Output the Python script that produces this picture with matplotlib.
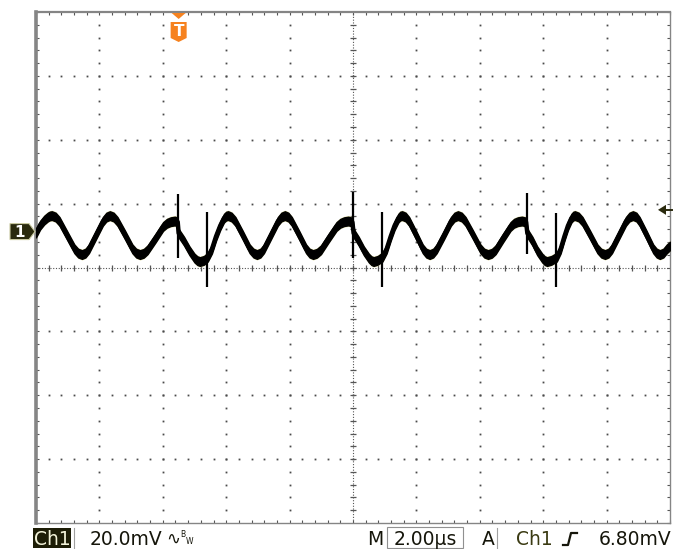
import matplotlib
matplotlib.use('Agg')
import matplotlib.pyplot as plt
import numpy as np
from matplotlib.patches import Polygon, Rectangle

# scope settings
volts_per_div = 20.0      # mV
time_per_div = 2.0        # us
ground_offset_div = 0.5625
trigger_level = 6.80      # mV
trigger_time = 4.50       # us

# trace centre line (us, mV)
trace_read = [
    (0.00, -0.5), (0.13, 2.0), (0.26, 3.6), (0.38, 4.6), (0.44, 4.9), (0.50, 5.0),
    (0.62, 4.54), (0.74, 3.2), (0.975, -1.1), (1.21, -5.4), (1.33, -6.74), (1.45, -7.2),
    (1.56, -6.74), (1.67, -5.4), (1.89, -1.1), (2.11, 3.2), (2.22, 4.54), (2.33, 5.0),
    (2.45, 4.54), (2.57, 3.2), (2.81, -1.1), (3.04, -5.4), (3.16, -6.74), (3.28, -7.2),
    (3.40, -6.8), (3.52, -5.7), (3.77, -2.05), (4.01, 1.6), (4.13, 2.6), (4.25, 3.1),
    (4.38, 3.3), (4.47, 3.0),
    (4.50, -0.5), (4.67, -3.0), (4.84, -6.0), (5.00, -8.3), (5.09, -9.1), (5.17, -9.4),
    (5.30, -9.0), (5.38, -8.3),
    (5.42, -8.0), (5.55, -5.5), (5.68, -1.5), (5.81, 1.8), (5.93, 4.2), (6.00, 4.85), (6.06, 5.0),
    (6.17, 4.54), (6.29, 3.2), (6.52, -1.1), (6.74, -5.4), (6.86, -6.74), (6.97, -7.2),
    (7.08, -6.74), (7.19, -5.4), (7.41, -1.1), (7.63, 3.2), (7.74, 4.54), (7.85, 5.0),
    (7.96, 4.54), (8.07, 3.2), (8.30, -1.1), (8.52, -5.4), (8.63, -6.74), (8.74, -7.2),
    (8.86, -6.8), (8.99, -5.7), (9.23, -2.05), (9.48, 1.6), (9.60, 2.6), (9.72, 3.1),
    (9.85, 3.3), (9.98, 3.0),
    (10.02, -0.5), (10.18, -3.0), (10.34, -6.0), (10.50, -8.3), (10.58, -9.1), (10.65, -9.4),
    (10.78, -9.0), (10.88, -8.3),
    (10.93, -8.0), (11.06, -5.5), (11.19, -1.5), (11.31, 1.8), (11.43, 4.2), (11.49, 4.85), (11.55, 5.0),
    (11.66, 4.54), (11.77, 3.2), (11.99, -1.1), (12.20, -5.4), (12.31, -6.74), (12.42, -7.2),
    (12.53, -6.74), (12.64, -5.4), (12.87, -1.1), (13.09, 3.2), (13.20, 4.54), (13.31, 5.0),
    (13.43, 4.54), (13.55, 3.2), (13.79, -1.1), (14.02, -5.4), (14.14, -6.74), (14.26, -7.2),
    (14.38, -6.8), (14.50, -5.7), (14.73, -2.05), (14.97, 1.6), (15.08, 2.6), (15.20, 3.1),
    (15.33, 3.3), (15.46, 3.0),
    (15.50, -0.5), (15.66, -3.0), (15.81, -6.0), (15.97, -8.3), (16.05, -9.1), (16.12, -9.4),
    (16.26, -9.0), (16.38, -8.3),
    (16.43, -8.0), (16.55, -5.5), (16.67, -1.5), (16.78, 1.8), (16.89, 4.2), (16.95, 4.85), (17.00, 5.0),
    (17.12, 4.54), (17.24, 3.2), (17.48, -1.1), (17.71, -5.4), (17.83, -6.74), (17.95, -7.2),
    (18.06, -6.74), (18.17, -5.4), (18.39, -1.1), (18.61, 3.2), (18.72, 4.54), (18.83, 5.0),
    (18.94, 4.54), (19.04, 3.2), (19.26, -1.1), (19.47, -5.4), (19.58, -6.74), (19.68, -7.2),
    (19.79, -6.74), (19.90, -5.4), (20.00, -4.5),
]
trace_t = [p[0] for p in trace_read]
trace_v = [p[1] for p in trace_read]

# switching spikes
spike_t = [4.48, 5.39, 10.00, 10.90, 15.48, 16.40]
spike_lo = [-8.4, -17.5, -8.4, -17.5, -7.0, -17.5]
spike_hi = [11.9, 6.2, 12.5, 6.2, 12.2, 5.9]

W, H = 673, 549
left, right, top, bottom = 36, 670, 12, 523
centre = -ground_offset_div * volts_per_div
y_lo, y_hi = centre - 4 * volts_per_div, centre + 4 * volts_per_div
t_end = 10 * time_per_div

fig = plt.figure(figsize=(W / 100, H / 100), dpi=100)
ax = fig.add_axes([left / W, (H - bottom) / H, (right - left) / W, (bottom - top) / H])
ax.set_xlim(0, t_end)
ax.set_ylim(y_lo, y_hi)

# graticule
grid_col = '#4a4a4a'
x_fine = np.arange(1, 50) * time_per_div / 5
y_fine = y_lo + np.arange(1, 40) * volts_per_div / 5
for k in range(1, 10):
    x = k * time_per_div
    if k == 5:
        continue
    ax.plot(np.full_like(y_fine, x), y_fine, ls='none', marker='s', ms=1.3, mew=0, color=grid_col)
for k in range(1, 8):
    y = y_lo + k * volts_per_div
    if k == 4:
        continue
    ax.plot(x_fine, np.full_like(x_fine, y), ls='none', marker='s', ms=1.3, mew=0, color=grid_col)

ax.axvline(t_end / 2, ls=(0, (1, 1.5)), lw=0.8, color='#555555')
ax.axhline(centre, ls=(0, (1, 1.5)), lw=0.8, color='#555555')
ax.plot(x_fine, np.full_like(x_fine, centre), ls='none', marker='|', ms=5, mew=0.9, color='#555555')
ax.plot(np.full_like(y_fine, t_end / 2), y_fine, ls='none', marker='_', ms=5, mew=0.9, color='#555555')

for name, s in ax.spines.items():
    s.set_color('#858585')
ax.spines['left'].set_linewidth(2.6)
ax.spines['top'].set_linewidth(1.6)
ax.spines['right'].set_linewidth(1.0)
ax.spines['bottom'].set_linewidth(1.0)
ax.set_xticks(np.arange(0, 51) * time_per_div / 5)
ax.set_yticks(y_lo + np.arange(0, 41) * volts_per_div / 5)
ax.tick_params(direction='in', length=2.5, width=0.8, color='#555555',
               top=True, right=True, labelbottom=False, labelleft=False)

# trace
tv = np.array(trace_v)
ax.fill_between(trace_t, tv - 1.7, tv + 1.7, color='#e4e1a8', lw=0, zorder=3)
ax.fill_between(trace_t, tv - 1.35, tv + 1.35, facecolor='black', edgecolor='black', lw=1.0, zorder=4)
ax.plot(trace_t, trace_v, color='black', lw=3.2, solid_joinstyle='round', zorder=4)
ax.vlines(spike_t, spike_lo, spike_hi, color='black', lw=1.6, zorder=5)

# overlay in pixel coordinates
ov = fig.add_axes([0, 0, 1, 1], zorder=5)
ov.set_xlim(0, W)
ov.set_ylim(H, 0)
ov.axis('off')
ov.patch.set_alpha(0)


def px(t):
    return left + t / t_end * (right - left)


def py(v):
    return top + (y_hi - v) / (y_hi - y_lo) * (bottom - top)


dark = '#2a2a0e'
orange = '#f6821f'

tx = px(trigger_time)
ov.add_patch(Polygon([(tx - 7, 13), (tx + 7, 13), (tx, 19)], closed=True, fc=orange, ec='none'))
ov.add_patch(Polygon([(tx - 8, 22), (tx + 8, 22), (tx + 8, 38), (tx, 42), (tx - 8, 38)],
                     closed=True, fc=orange, ec='none'))
ov.text(tx, 31.5, 'T', color='white', fontsize=11, fontweight='bold', ha='center', va='center')

gy = py(0)
ov.add_patch(Polygon([(10, gy - 8), (29, gy - 8), (35, gy), (29, gy + 8), (10, gy + 8)],
                     closed=True, fc=dark, ec='#c8c8a0', lw=0.8))
ov.text(19.5, gy + 0.5, '1', color='white', fontsize=11, fontweight='bold', ha='center', va='center')

ly = py(trigger_level)
ov.add_patch(Polygon([(658, ly), (666, ly - 5), (666, ly + 5)], closed=True, fc=dark, ec='none'))
ov.plot([664, 672], [ly, ly], color=dark, lw=1.4)

# status bar
txt = '#15150a'
fs = 13.5
base = 545
ov.add_patch(Rectangle((33, 528), 38, 20, fc='#1d1d06', ec='none'))
ov.text(52, base, 'Ch1', color='#f2f2d8', fontsize=fs, ha='center', va='baseline')
ov.plot([74, 74], [528, 548], color='#a0a0a0', lw=0.8)
ov.text(90, base, '20.0mV', color=txt, fontsize=fs, ha='left', va='baseline')
ov.text(166, base - 1, '∿', color=txt, fontsize=12, ha='left', va='baseline')
ov.text(180, 537, 'B', color=txt, fontsize=5.5, ha='left', va='baseline')
ov.text(186, 544, 'W', color=txt, fontsize=5.5, ha='left', va='baseline')

ov.text(375, base, 'M', color=txt, fontsize=fs, ha='center', va='baseline')
ov.add_patch(Rectangle((387, 527), 76, 21, fc='none', ec='#909090', lw=0.8))
ov.text(425, base, '2.00µs', color=txt, fontsize=fs, ha='center', va='baseline')
ov.text(488, base, 'A', color=txt, fontsize=fs, ha='center', va='baseline')
ov.plot([497, 497], [528, 548], color='#a0a0a0', lw=0.8)
ov.text(534, base, 'Ch1', color='#3a3a12', fontsize=fs, ha='center', va='baseline')
ov.plot([563, 568, 571, 577], [545, 545, 533, 533], color=txt, lw=1.6)
ov.text(672, base, '6.80mV', color=txt, fontsize=fs, ha='right', va='baseline')

fig.savefig('out.png', dpi=100, facecolor='white')
